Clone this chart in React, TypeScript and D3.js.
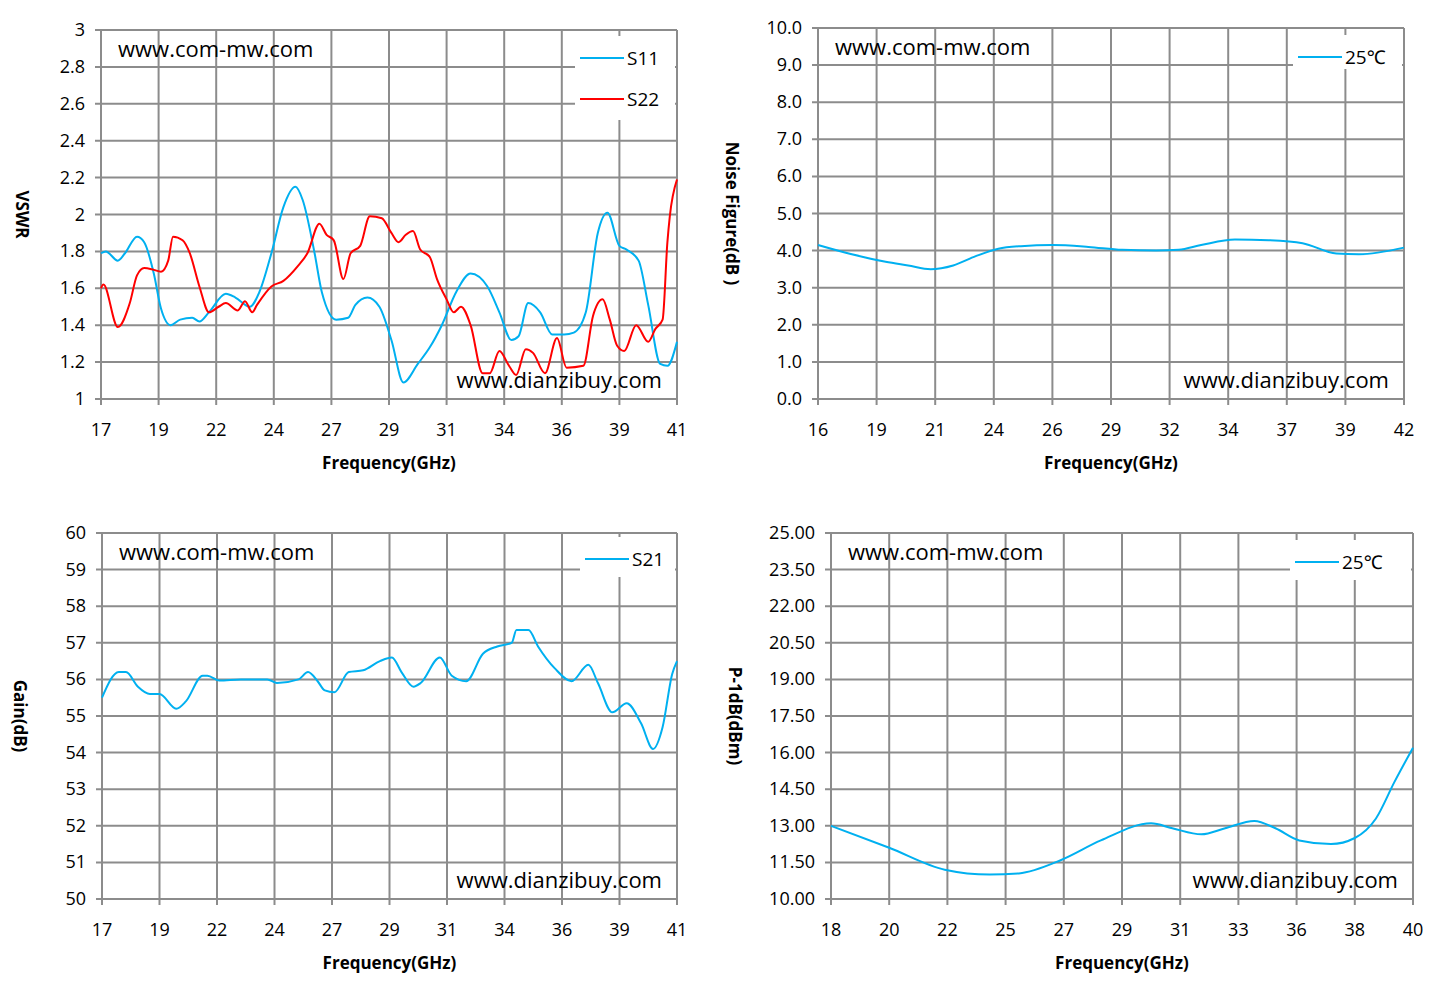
import React from "react";
import * as d3 from "d3";

const s11F = [17,17.2,17.7,18,18.5,18.8,19.2,19.5,19.9,20.3,20.8,21.1,21.5,22.2,22.6,23.2,23.6,24.1,24.6,25.1,25.4,25.9,26.2,26.8,27.3,27.6,28.1,28.6,29.1,29.6,30.2,30.7,31.2,31.8,32.4,33.1,33.6,34.1,34.4,34.8,35.3,35.8,36.3,36.7,37.2,37.7,38.1,38.6,38.9,39.4,39.8,40.3,40.6,41];
const s11V = [1.79,1.80,1.75,1.79,1.88,1.85,1.68,1.49,1.40,1.43,1.44,1.42,1.47,1.57,1.55,1.50,1.58,1.79,2.04,2.15,2.08,1.79,1.58,1.43,1.44,1.51,1.55,1.50,1.32,1.09,1.19,1.28,1.40,1.58,1.68,1.61,1.47,1.32,1.34,1.52,1.47,1.35,1.35,1.36,1.47,1.90,2.01,1.83,1.81,1.75,1.51,1.19,1.18,1.31];
const s22F = [17,17.1,17.7,18.2,18.5,18.8,19.2,19.5,19.8,20,20.4,20.7,21.1,21.5,21.9,22.2,22.7,23,23.3,23.5,24.1,24.6,25.2,25.6,26.1,26.4,26.7,27.1,27.4,27.8,28.2,28.7,29.1,29.4,29.7,30,30.3,30.7,31,31.4,31.7,32,32.4,32.9,33.2,33.6,34,34.3,34.7,35,35.5,36,36.4,37.1,37.5,37.9,38.2,38.5,38.8,39.3,39.8,40.1,40.4,40.6,40.7,41];
const s22V = [1.60,1.62,1.39,1.52,1.67,1.71,1.70,1.69,1.75,1.88,1.86,1.79,1.61,1.47,1.50,1.52,1.48,1.53,1.47,1.51,1.61,1.64,1.72,1.79,1.95,1.89,1.86,1.65,1.79,1.83,1.99,1.98,1.90,1.85,1.89,1.91,1.81,1.77,1.65,1.54,1.47,1.50,1.40,1.14,1.14,1.26,1.18,1.13,1.27,1.25,1.14,1.33,1.17,1.18,1.45,1.54,1.43,1.29,1.26,1.40,1.31,1.38,1.43,1.85,1.99,2.19];
const s21F = [17,17.7,18,18.5,19,19.4,20.1,20.5,21.2,21.4,21.9,22.8,23.9,24.3,25.2,25.6,26,26.3,26.7,27.3,27.9,28.6,29.1,29.5,30,30.3,31.1,31.6,32.2,32.9,33.5,34.1,34.3,34.8,35.2,35.9,36.6,37.3,37.7,38.3,38.9,39.5,40,40.4,40.8,41];
const s21V = [55.5,56.2,56.2,55.8,55.6,55.6,55.2,55.4,56.1,56.1,55.97,56,56,55.9,56,56.2,55.95,55.7,55.65,56.2,56.25,56.5,56.6,56.2,55.8,55.9,56.6,56.1,55.95,56.7,56.9,57.0,57.35,57.35,56.9,56.3,55.95,56.4,55.9,55.1,55.35,54.8,54.1,54.7,56.15,56.5];
const nfF = [16,17.5,19,20,21,22,23,24,25,26.4,28,29.5,31,32,33,34.5,36,37.5,39,40,42];
const nfV = [4.15,3.9,3.7,3.6,3.5,3.6,3.85,4.05,4.12,4.15,4.1,4.02,4.0,4.02,4.15,4.3,4.28,4.2,3.92,3.9,4.08];
const p1F = [18,20.2,22.3,24,25.1,26.7,28.2,30.1,30.9,32,32.9,34,34.8,35.7,36.9,37.8,38.6,39.3,40];
const p1V = [13.0,12.1,11.2,11.0,11.05,11.6,12.4,13.1,12.9,12.65,12.9,13.2,12.9,12.4,12.25,12.5,13.3,14.8,16.2];

const FONT = "'Open Sans', 'Noto Sans', sans-serif";
const GRID = "#8c8c8c";
const BLUE = "#00b0f0";
const RED = "#ff0000";

type Series = { f: number[]; v: number[]; color: string; name: string };

function Panel(p: {
  L: number; R: number; T: number; B: number; titleX: number;
  xMin: number; xMax: number; yMin: number; yMax: number; yStep: number; yFmt: (v: number) => string;
  yTitle: string; series: Series[]; legendBox: [number, number, number, number];
}) {
  const x = d3.scaleLinear().domain([p.xMin, p.xMax]).range([p.L, p.R]);
  const y = d3.scaleLinear().domain([p.yMin, p.yMax]).range([p.B, p.T]);
  const xTicks = d3.range(11).map(i => p.xMin + (i * (p.xMax - p.xMin)) / 10);
  const nY = Math.round((p.yMax - p.yMin) / p.yStep);
  const yTicks = d3.range(nY + 1).map(i => p.yMin + i * p.yStep);
  const [lx, ly, lw, lh] = p.legendBox;
  return (
    <g fontFamily={FONT}>
      {xTicks.map((t, i) => (
        <line key={"vx" + i} x1={x(t)} x2={x(t)} y1={p.T} y2={p.B + 6} stroke={GRID} strokeWidth={2} />
      ))}
      {yTicks.map((t, i) => (
        <line key={"hy" + i} x1={p.L - 6} x2={p.R} y1={y(t)} y2={y(t)} stroke={GRID} strokeWidth={2} />
      ))}
      {yTicks.map((t, i) => (
        <text key={"yl" + i} x={p.L - 16} y={y(t) + 6} textAnchor="end" fontSize={18}>{p.yFmt(t)}</text>
      ))}
      {xTicks.map((t, i) => (
        <text key={"xl" + i} x={x(t)} y={p.B + 37} textAnchor="middle" fontSize={18}>{Math.round(t)}</text>
      ))}
      <text x={(p.L + p.R) / 2} y={p.B + 70} textAnchor="middle" fontSize={17} fontWeight="bold">Frequency(GHz)</text>
      <text transform={`translate(${p.titleX},${(p.T + p.B) / 2}) rotate(90)`} textAnchor="middle" fontSize={17} fontWeight="bold">{p.yTitle}</text>
      <text x={p.L + 17} y={p.T + 27} fontSize={22}>www.com-mw.com</text>
      <rect x={lx} y={ly} width={lw} height={lh} fill="white" />
      {p.series.map((s, i) => {
        const line = d3.line<number>().x((_, j) => x(s.f[j])).y(d => y(d)).curve(d3.curveMonotoneX);
        return (
          <g key={s.name}>
            <path d={line(s.v) || ""} fill="none" stroke={s.color} strokeWidth={2} />
            <line x1={lx + 5} x2={lx + 49} y1={ly + 22 + i * 41} y2={ly + 22 + i * 41} stroke={s.color} strokeWidth={2} />
            <text x={lx + 52} y={ly + 29 + i * 41} fontSize={19}>{s.name}</text>
          </g>
        );
      })}
      <text x={p.R - 15} y={p.B - 11} textAnchor="end" fontSize={22}>www.dianzibuy.com</text>
    </g>
  );
}

export default function App() {
  return (
    <svg width={1442} height={999} style={{ display: "block", position: "absolute", left: 0, top: 0 }}>
      <Panel L={101} R={677} T={30} B={399} titleX={16} xMin={17} xMax={41} yMin={1} yMax={3} yStep={0.2}
        yFmt={v => String(Math.round(v * 10) / 10)} yTitle="VSWR" legendBox={[575, 36, 100, 84]}
        series={[{ f: s11F, v: s11V, color: BLUE, name: "S11" }, { f: s22F, v: s22V, color: RED, name: "S22" }]} />
      <Panel L={818} R={1404} T={28} B={399} titleX={726} xMin={16} xMax={42} yMin={0} yMax={10} yStep={1}
        yFmt={v => v.toFixed(1)} yTitle="Noise Figure(dB )" legendBox={[1293, 35, 109, 34]}
        series={[{ f: nfF, v: nfV, color: BLUE, name: "25℃" }]} />
      <Panel L={102} R={677} T={533} B={899} titleX={14} xMin={17} xMax={41} yMin={50} yMax={60} yStep={1}
        yFmt={v => String(v)} yTitle="Gain(dB)" legendBox={[580, 537, 95, 40]}
        series={[{ f: s21F, v: s21V, color: BLUE, name: "S21" }]} />
      <Panel L={831} R={1413} T={533} B={899} titleX={729} xMin={18} xMax={40} yMin={10} yMax={25} yStep={1.5}
        yFmt={v => v.toFixed(2)} yTitle="P-1dB(dBm)" legendBox={[1290, 540, 121, 40]}
        series={[{ f: p1F, v: p1V, color: BLUE, name: "25℃" }]} />
    </svg>
  );
}
